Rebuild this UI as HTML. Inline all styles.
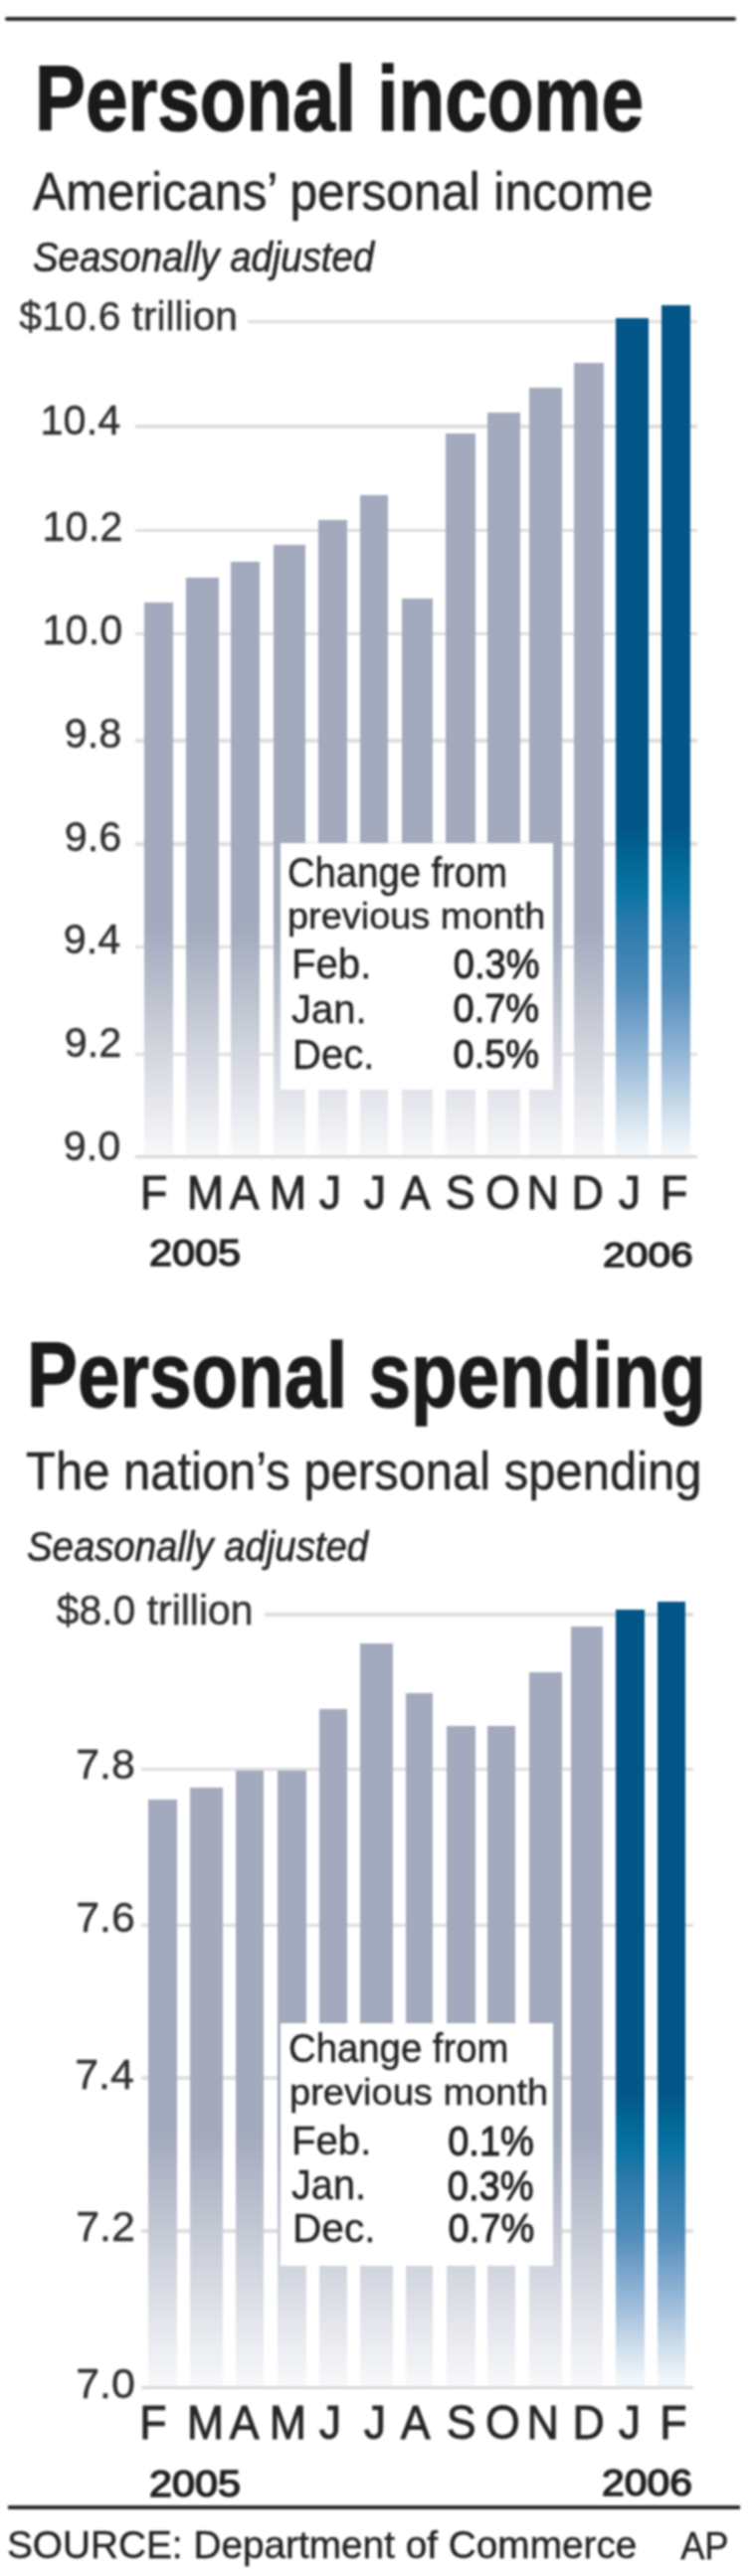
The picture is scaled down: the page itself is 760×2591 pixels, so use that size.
<!DOCTYPE html>
<html><head><meta charset="utf-8"><style>
html,body{margin:0;padding:0;background:#fff;}
body{width:760px;height:2591px;position:relative;overflow:hidden;font-family:"Liberation Sans",sans-serif;filter:blur(0.8px);}
div,span.t{position:absolute;}
span.t{white-space:nowrap;line-height:1;}
</style></head><body>
<div style="left:4.5px;top:16.5px;width:735.0px;height:4.0px;background:#2b2b2b;border-radius:2px;"></div>
<div style="left:249.2px;top:321.6px;width:451.8px;height:3.5px;background:#dedede;"></div>
<div style="left:136.0px;top:427.4px;width:565.0px;height:3.5px;background:#dedede;"></div>
<div style="left:136.0px;top:531.5px;width:565.0px;height:3.5px;background:#dedede;"></div>
<div style="left:136.0px;top:635.8px;width:565.0px;height:3.5px;background:#dedede;"></div>
<div style="left:136.0px;top:743.1px;width:565.0px;height:3.5px;background:#dedede;"></div>
<div style="left:136.0px;top:847.4px;width:565.0px;height:3.5px;background:#dedede;"></div>
<div style="left:136.0px;top:950.8px;width:565.0px;height:3.5px;background:#dedede;"></div>
<div style="left:136.0px;top:1058.5px;width:565.0px;height:3.5px;background:#dedede;"></div>
<div style="left:136.0px;top:1162.2px;width:565.0px;height:3.0px;background:#d8d8d8;"></div>
<div style="left:145.0px;top:605.7px;width:29.4px;height:556.5px;background:#a3aabd linear-gradient(to bottom, #a3aabd 0.0%, #a9b0c2 7.8%, #bcc1ce 30.0%, #d0d4dd 52.6%, #e4e6ec 75.2%, #f3f4f7 93.9%, #f9f9fa 100.0%) no-repeat left bottom / 100% 230px;"></div>
<div style="left:186.5px;top:580.7px;width:33.5px;height:581.5px;background:#a3aabd linear-gradient(to bottom, #a3aabd 0.0%, #a9b0c2 7.8%, #bcc1ce 30.0%, #d0d4dd 52.6%, #e4e6ec 75.2%, #f3f4f7 93.9%, #f9f9fa 100.0%) no-repeat left bottom / 100% 230px;"></div>
<div style="left:232.0px;top:564.7px;width:29.0px;height:597.5px;background:#a3aabd linear-gradient(to bottom, #a3aabd 0.0%, #a9b0c2 7.8%, #bcc1ce 30.0%, #d0d4dd 52.6%, #e4e6ec 75.2%, #f3f4f7 93.9%, #f9f9fa 100.0%) no-repeat left bottom / 100% 230px;"></div>
<div style="left:274.5px;top:547.7px;width:32.5px;height:614.5px;background:#a3aabd linear-gradient(to bottom, #a3aabd 0.0%, #a9b0c2 7.8%, #bcc1ce 30.0%, #d0d4dd 52.6%, #e4e6ec 75.2%, #f3f4f7 93.9%, #f9f9fa 100.0%) no-repeat left bottom / 100% 230px;"></div>
<div style="left:320.0px;top:523.2px;width:29.0px;height:639.0px;background:#a3aabd linear-gradient(to bottom, #a3aabd 0.0%, #a9b0c2 7.8%, #bcc1ce 30.0%, #d0d4dd 52.6%, #e4e6ec 75.2%, #f3f4f7 93.9%, #f9f9fa 100.0%) no-repeat left bottom / 100% 230px;"></div>
<div style="left:361.5px;top:498.2px;width:28.5px;height:664.0px;background:#a3aabd linear-gradient(to bottom, #a3aabd 0.0%, #a9b0c2 7.8%, #bcc1ce 30.0%, #d0d4dd 52.6%, #e4e6ec 75.2%, #f3f4f7 93.9%, #f9f9fa 100.0%) no-repeat left bottom / 100% 230px;"></div>
<div style="left:403.5px;top:601.9px;width:31.5px;height:560.3px;background:#a3aabd linear-gradient(to bottom, #a3aabd 0.0%, #a9b0c2 7.8%, #bcc1ce 30.0%, #d0d4dd 52.6%, #e4e6ec 75.2%, #f3f4f7 93.9%, #f9f9fa 100.0%) no-repeat left bottom / 100% 230px;"></div>
<div style="left:448.0px;top:436.0px;width:29.6px;height:726.2px;background:#a3aabd linear-gradient(to bottom, #a3aabd 0.0%, #a9b0c2 7.8%, #bcc1ce 30.0%, #d0d4dd 52.6%, #e4e6ec 75.2%, #f3f4f7 93.9%, #f9f9fa 100.0%) no-repeat left bottom / 100% 230px;"></div>
<div style="left:490.0px;top:414.9px;width:33.0px;height:747.3px;background:#a3aabd linear-gradient(to bottom, #a3aabd 0.0%, #a9b0c2 7.8%, #bcc1ce 30.0%, #d0d4dd 52.6%, #e4e6ec 75.2%, #f3f4f7 93.9%, #f9f9fa 100.0%) no-repeat left bottom / 100% 230px;"></div>
<div style="left:531.5px;top:390.3px;width:33.5px;height:771.9px;background:#a3aabd linear-gradient(to bottom, #a3aabd 0.0%, #a9b0c2 7.8%, #bcc1ce 30.0%, #d0d4dd 52.6%, #e4e6ec 75.2%, #f3f4f7 93.9%, #f9f9fa 100.0%) no-repeat left bottom / 100% 230px;"></div>
<div style="left:577.0px;top:365.3px;width:30.0px;height:796.9px;background:#a3aabd linear-gradient(to bottom, #a3aabd 0.0%, #a9b0c2 7.8%, #bcc1ce 30.0%, #d0d4dd 52.6%, #e4e6ec 75.2%, #f3f4f7 93.9%, #f9f9fa 100.0%) no-repeat left bottom / 100% 230px;"></div>
<div style="left:618.8px;top:319.6px;width:33.2px;height:842.6px;background:#025688 linear-gradient(to bottom, #025688 0.0%, #026796 9.7%, #0a73a3 19.5%, #2a7aab 28.9%, #4f8cbb 48.3%, #7aa5cc 61.1%, #a3c1dc 74.2%, #cfdfec 86.9%, #eef4f8 96.7%, #f5f9fb 100.0%) no-repeat left bottom / 100% 329px;"></div>
<div style="left:664.5px;top:306.9px;width:29.3px;height:855.3px;background:#025688 linear-gradient(to bottom, #025688 0.0%, #026796 9.7%, #0a73a3 19.5%, #2a7aab 28.9%, #4f8cbb 48.3%, #7aa5cc 61.1%, #a3c1dc 74.2%, #cfdfec 86.9%, #eef4f8 96.7%, #f5f9fb 100.0%) no-repeat left bottom / 100% 329px;"></div>
<div style="left:281.6px;top:848.0px;width:274.4px;height:247.5px;background:#fff;"></div>
<div style="left:265.6px;top:1622.3px;width:431.7px;height:3.5px;background:#dedede;"></div>
<div style="left:141.6px;top:1777.7px;width:555.7px;height:3.5px;background:#dedede;"></div>
<div style="left:141.6px;top:1934.8px;width:555.7px;height:3.5px;background:#dedede;"></div>
<div style="left:141.6px;top:2088.4px;width:555.7px;height:3.5px;background:#dedede;"></div>
<div style="left:141.6px;top:2242.3px;width:555.7px;height:3.5px;background:#dedede;"></div>
<div style="left:141.6px;top:2400.2px;width:555.7px;height:3.0px;background:#d8d8d8;"></div>
<div style="left:149.2px;top:1810.4px;width:29.1px;height:589.8px;background:#a3aabd linear-gradient(to bottom, #a3aabd 0.0%, #a9b0c2 7.8%, #bcc1ce 30.0%, #d0d4dd 52.6%, #e4e6ec 75.2%, #f3f4f7 93.9%, #f9f9fa 100.0%) no-repeat left bottom / 100% 255px;"></div>
<div style="left:190.5px;top:1797.7px;width:33.5px;height:602.5px;background:#a3aabd linear-gradient(to bottom, #a3aabd 0.0%, #a9b0c2 7.8%, #bcc1ce 30.0%, #d0d4dd 52.6%, #e4e6ec 75.2%, #f3f4f7 93.9%, #f9f9fa 100.0%) no-repeat left bottom / 100% 255px;"></div>
<div style="left:236.5px;top:1781.2px;width:28.5px;height:619.0px;background:#a3aabd linear-gradient(to bottom, #a3aabd 0.0%, #a9b0c2 7.8%, #bcc1ce 30.0%, #d0d4dd 52.6%, #e4e6ec 75.2%, #f3f4f7 93.9%, #f9f9fa 100.0%) no-repeat left bottom / 100% 255px;"></div>
<div style="left:278.5px;top:1781.2px;width:29.0px;height:619.0px;background:#a3aabd linear-gradient(to bottom, #a3aabd 0.0%, #a9b0c2 7.8%, #bcc1ce 30.0%, #d0d4dd 52.6%, #e4e6ec 75.2%, #f3f4f7 93.9%, #f9f9fa 100.0%) no-repeat left bottom / 100% 255px;"></div>
<div style="left:320.5px;top:1719.4px;width:28.5px;height:680.8px;background:#a3aabd linear-gradient(to bottom, #a3aabd 0.0%, #a9b0c2 7.8%, #bcc1ce 30.0%, #d0d4dd 52.6%, #e4e6ec 75.2%, #f3f4f7 93.9%, #f9f9fa 100.0%) no-repeat left bottom / 100% 255px;"></div>
<div style="left:362.0px;top:1652.9px;width:32.5px;height:747.3px;background:#a3aabd linear-gradient(to bottom, #a3aabd 0.0%, #a9b0c2 7.8%, #bcc1ce 30.0%, #d0d4dd 52.6%, #e4e6ec 75.2%, #f3f4f7 93.9%, #f9f9fa 100.0%) no-repeat left bottom / 100% 255px;"></div>
<div style="left:408.0px;top:1702.6px;width:27.0px;height:697.6px;background:#a3aabd linear-gradient(to bottom, #a3aabd 0.0%, #a9b0c2 7.8%, #bcc1ce 30.0%, #d0d4dd 52.6%, #e4e6ec 75.2%, #f3f4f7 93.9%, #f9f9fa 100.0%) no-repeat left bottom / 100% 255px;"></div>
<div style="left:448.5px;top:1735.6px;width:29.0px;height:664.6px;background:#a3aabd linear-gradient(to bottom, #a3aabd 0.0%, #a9b0c2 7.8%, #bcc1ce 30.0%, #d0d4dd 52.6%, #e4e6ec 75.2%, #f3f4f7 93.9%, #f9f9fa 100.0%) no-repeat left bottom / 100% 255px;"></div>
<div style="left:490.0px;top:1735.8px;width:28.0px;height:664.4px;background:#a3aabd linear-gradient(to bottom, #a3aabd 0.0%, #a9b0c2 7.8%, #bcc1ce 30.0%, #d0d4dd 52.6%, #e4e6ec 75.2%, #f3f4f7 93.9%, #f9f9fa 100.0%) no-repeat left bottom / 100% 255px;"></div>
<div style="left:532.3px;top:1681.6px;width:32.7px;height:718.6px;background:#a3aabd linear-gradient(to bottom, #a3aabd 0.0%, #a9b0c2 7.8%, #bcc1ce 30.0%, #d0d4dd 52.6%, #e4e6ec 75.2%, #f3f4f7 93.9%, #f9f9fa 100.0%) no-repeat left bottom / 100% 255px;"></div>
<div style="left:573.5px;top:1635.9px;width:32.8px;height:764.3px;background:#a3aabd linear-gradient(to bottom, #a3aabd 0.0%, #a9b0c2 7.8%, #bcc1ce 30.0%, #d0d4dd 52.6%, #e4e6ec 75.2%, #f3f4f7 93.9%, #f9f9fa 100.0%) no-repeat left bottom / 100% 255px;"></div>
<div style="left:619.0px;top:1619.4px;width:28.5px;height:780.8px;background:#025688 linear-gradient(to bottom, #025688 0.0%, #026796 9.7%, #0a73a3 19.5%, #2a7aab 28.9%, #4f8cbb 48.3%, #7aa5cc 61.1%, #a3c1dc 74.2%, #cfdfec 86.9%, #eef4f8 96.7%, #f5f9fb 100.0%) no-repeat left bottom / 100% 295px;"></div>
<div style="left:660.5px;top:1610.9px;width:28.5px;height:789.3px;background:#025688 linear-gradient(to bottom, #025688 0.0%, #026796 9.7%, #0a73a3 19.5%, #2a7aab 28.9%, #4f8cbb 48.3%, #7aa5cc 61.1%, #a3c1dc 74.2%, #cfdfec 86.9%, #eef4f8 96.7%, #f5f9fb 100.0%) no-repeat left bottom / 100% 295px;"></div>
<div style="left:281.7px;top:2034.6px;width:274.8px;height:244.6px;background:#fff;"></div>
<div style="left:8.0px;top:2520.0px;width:736.0px;height:4.0px;background:#2b2b2b;"></div>
<span class="t" style="top:53.21px;font-size:92.58px;color:#1a1a1a;font-weight:bold;-webkit-text-stroke:1.4px #1a1a1a;left:35.00px;transform-origin:0 0;transform:scaleX(0.8259);">Personal income</span>
<span class="t" style="top:166.85px;font-size:52.76px;color:#262626;-webkit-text-stroke:0.5px #262626;left:32.87px;transform-origin:0 0;transform:scaleX(0.9444);">Americans’ personal income</span>
<span class="t" style="top:238.07px;font-size:41.78px;color:#262626;font-style:italic;-webkit-text-stroke:0.6px #262626;left:33.01px;transform-origin:0 0;transform:scaleX(0.9178);">Seasonally adjusted</span>
<span class="t" style="top:297.56px;font-size:40.44px;color:#303030;-webkit-text-stroke:0.4px #303030;right:520.69px;transform-origin:100% 0;transform:scaleX(1.0075);">$10.6 trillion</span>
<span class="t" style="top:1336.80px;font-size:93.07px;color:#1a1a1a;font-weight:bold;-webkit-text-stroke:1.4px #1a1a1a;left:27.40px;transform-origin:0 0;transform:scaleX(0.8199);">Personal spending</span>
<span class="t" style="top:1452.88px;font-size:54.38px;color:#262626;-webkit-text-stroke:0.5px #262626;left:26.15px;transform-origin:0 0;transform:scaleX(0.9003);">The nation’s personal spending</span>
<span class="t" style="top:1534.51px;font-size:41.78px;color:#262626;font-style:italic;-webkit-text-stroke:0.6px #262626;left:26.53px;transform-origin:0 0;transform:scaleX(0.9178);">Seasonally adjusted</span>
<span class="t" style="top:1599.09px;font-size:42.08px;color:#303030;-webkit-text-stroke:0.4px #303030;right:505.30px;transform-origin:100% 0;transform:scaleX(0.9716);">$8.0 trillion</span>
<span class="t" style="top:2539.98px;font-size:39.00px;color:#222;-webkit-text-stroke:0.4px #222;left:7.15px;transform-origin:0 0;transform:scaleX(0.9940);">SOURCE: Department of Commerce</span>
<span class="t" style="top:2540.96px;font-size:39.45px;color:#222;-webkit-text-stroke:0.4px #222;right:27.43px;transform-origin:100% 0;transform:scaleX(0.9213);">AP</span>
<span class="t" style="top:1241.79px;font-size:37.78px;color:#222;-webkit-text-stroke:1.4px #222;left:149.96px;transform-origin:0 0;transform:scaleX(1.0952);">2005</span>
<span class="t" style="top:1244.57px;font-size:35.52px;color:#222;-webkit-text-stroke:1.4px #222;left:605.70px;transform-origin:0 0;transform:scaleX(1.1489);">2006</span>
<span class="t" style="top:2479.66px;font-size:37.34px;color:#222;-webkit-text-stroke:1.4px #222;left:149.96px;transform-origin:0 0;transform:scaleX(1.1081);">2005</span>
<span class="t" style="top:2480.28px;font-size:36.62px;color:#222;-webkit-text-stroke:1.4px #222;left:604.96px;transform-origin:0 0;transform:scaleX(1.1174);">2006</span>
<span class="t" style="top:857.24px;font-size:41.62px;color:#222;-webkit-text-stroke:0.4px #222;left:288.82px;transform-origin:0 0;transform:scaleX(0.9188);">Change from</span>
<span class="t" style="top:902.80px;font-size:37.54px;color:#222;-webkit-text-stroke:0.4px #222;left:289.46px;transform-origin:0 0;transform:scaleX(1.0102);">previous month</span>
<span class="t" style="top:948.97px;font-size:41.89px;color:#222;-webkit-text-stroke:0.4px #222;left:293.47px;transform-origin:0 0;transform:scaleX(0.9592);">Feb.</span>
<span class="t" style="top:994.65px;font-size:41.23px;color:#222;-webkit-text-stroke:0.4px #222;left:293.35px;transform-origin:0 0;transform:scaleX(0.9701);">Jan.</span>
<span class="t" style="top:1040.05px;font-size:41.89px;color:#222;-webkit-text-stroke:0.4px #222;left:293.53px;transform-origin:0 0;transform:scaleX(0.9578);">Dec.</span>
<span class="t" style="top:948.66px;font-size:41.90px;color:#222;-webkit-text-stroke:1.0px #222;right:217.58px;transform-origin:100% 0;transform:scaleX(0.9075);">0.3%</span>
<span class="t" style="top:994.41px;font-size:41.32px;color:#222;-webkit-text-stroke:1.0px #222;right:217.58px;transform-origin:100% 0;transform:scaleX(0.9204);">0.7%</span>
<span class="t" style="top:1039.65px;font-size:41.32px;color:#222;-webkit-text-stroke:1.0px #222;right:217.58px;transform-origin:100% 0;transform:scaleX(0.9204);">0.5%</span>
<span class="t" style="top:2040.95px;font-size:39.97px;color:#222;-webkit-text-stroke:0.4px #222;left:290.47px;transform-origin:0 0;transform:scaleX(0.9587);">Change from</span>
<span class="t" style="top:2085.84px;font-size:37.54px;color:#222;-webkit-text-stroke:0.4px #222;left:290.52px;transform-origin:0 0;transform:scaleX(1.0142);">previous month</span>
<span class="t" style="top:2132.89px;font-size:41.23px;color:#222;-webkit-text-stroke:0.4px #222;left:293.47px;transform-origin:0 0;transform:scaleX(0.9744);">Feb.</span>
<span class="t" style="top:2177.41px;font-size:41.89px;color:#222;-webkit-text-stroke:0.4px #222;left:293.36px;transform-origin:0 0;transform:scaleX(0.9482);">Jan.</span>
<span class="t" style="top:2220.57px;font-size:41.23px;color:#222;-webkit-text-stroke:0.4px #222;left:293.53px;transform-origin:0 0;transform:scaleX(0.9856);">Dec.</span>
<span class="t" style="top:2132.87px;font-size:41.61px;color:#222;-webkit-text-stroke:1.0px #222;right:223.00px;transform-origin:100% 0;transform:scaleX(0.9134);">0.1%</span>
<span class="t" style="top:2178.00px;font-size:41.90px;color:#222;-webkit-text-stroke:1.0px #222;right:223.70px;transform-origin:100% 0;transform:scaleX(0.9075);">0.3%</span>
<span class="t" style="top:2220.69px;font-size:40.05px;color:#222;-webkit-text-stroke:1.0px #222;right:223.00px;transform-origin:100% 0;transform:scaleX(0.9494);">0.7%</span>
<span class="t" style="top:401.19px;font-size:42.74px;color:#303030;-webkit-text-stroke:0.4px #303030;right:638.39px;transform-origin:100% 0;transform:scaleX(0.9691);">10.4</span>
<span class="t" style="top:508.23px;font-size:42.74px;color:#303030;-webkit-text-stroke:0.4px #303030;right:636.71px;transform-origin:100% 0;transform:scaleX(0.9691);">10.2</span>
<span class="t" style="top:612.35px;font-size:42.74px;color:#303030;-webkit-text-stroke:0.4px #303030;right:636.86px;transform-origin:100% 0;transform:scaleX(0.9691);">10.0</span>
<span class="t" style="top:716.27px;font-size:42.74px;color:#303030;-webkit-text-stroke:0.4px #303030;right:637.58px;transform-origin:100% 0;transform:scaleX(0.9691);">9.8</span>
<span class="t" style="top:820.11px;font-size:42.74px;color:#303030;-webkit-text-stroke:0.4px #303030;right:637.58px;transform-origin:100% 0;transform:scaleX(0.9691);">9.6</span>
<span class="t" style="top:923.35px;font-size:42.74px;color:#303030;-webkit-text-stroke:0.4px #303030;right:638.28px;transform-origin:100% 0;transform:scaleX(0.9691);">9.4</span>
<span class="t" style="top:1027.47px;font-size:42.74px;color:#303030;-webkit-text-stroke:0.4px #303030;right:637.58px;transform-origin:100% 0;transform:scaleX(0.9691);">9.2</span>
<span class="t" style="top:1131.39px;font-size:42.74px;color:#303030;-webkit-text-stroke:0.4px #303030;right:638.28px;transform-origin:100% 0;transform:scaleX(0.9691);">9.0</span>
<span class="t" style="top:1753.23px;font-size:43.12px;color:#303030;-webkit-text-stroke:0.4px #303030;right:623.58px;transform-origin:100% 0;transform:scaleX(0.9970);">7.8</span>
<span class="t" style="top:1907.11px;font-size:43.12px;color:#303030;-webkit-text-stroke:0.4px #303030;right:623.58px;transform-origin:100% 0;transform:scaleX(0.9970);">7.6</span>
<span class="t" style="top:2064.99px;font-size:43.12px;color:#303030;-webkit-text-stroke:0.4px #303030;right:624.58px;transform-origin:100% 0;transform:scaleX(0.9970);">7.4</span>
<span class="t" style="top:2218.23px;font-size:43.12px;color:#303030;-webkit-text-stroke:0.4px #303030;right:623.58px;transform-origin:100% 0;transform:scaleX(0.9970);">7.2</span>
<span class="t" style="top:2376.19px;font-size:43.12px;color:#303030;-webkit-text-stroke:0.4px #303030;right:623.58px;transform-origin:100% 0;transform:scaleX(0.9970);">7.0</span>
<span class="t" style="top:1175.16px;font-size:48.80px;color:#262626;-webkit-text-stroke:0.9px #262626;left:155.77px;transform-origin:0 0;transform:translateX(-50%) scaleX(0.9188);">F</span>
<span class="t" style="top:1175.16px;font-size:48.80px;color:#262626;-webkit-text-stroke:0.9px #262626;left:207.86px;transform-origin:0 0;transform:translateX(-50%) scaleX(0.9188);">M</span>
<span class="t" style="top:1175.16px;font-size:48.80px;color:#262626;-webkit-text-stroke:0.9px #262626;left:247.36px;transform-origin:0 0;transform:translateX(-50%) scaleX(0.9188);">A</span>
<span class="t" style="top:1175.16px;font-size:48.80px;color:#262626;-webkit-text-stroke:0.9px #262626;left:290.72px;transform-origin:0 0;transform:translateX(-50%) scaleX(0.9188);">M</span>
<span class="t" style="top:1175.16px;font-size:48.80px;color:#262626;-webkit-text-stroke:0.9px #262626;left:332.57px;transform-origin:0 0;transform:translateX(-50%) scaleX(0.9188);">J</span>
<span class="t" style="top:1175.16px;font-size:48.80px;color:#262626;-webkit-text-stroke:0.9px #262626;left:377.57px;transform-origin:0 0;transform:translateX(-50%) scaleX(0.9188);">J</span>
<span class="t" style="top:1175.16px;font-size:48.80px;color:#262626;-webkit-text-stroke:0.9px #262626;left:419.42px;transform-origin:0 0;transform:translateX(-50%) scaleX(0.9188);">A</span>
<span class="t" style="top:1175.16px;font-size:48.80px;color:#262626;-webkit-text-stroke:0.9px #262626;left:464.33px;transform-origin:0 0;transform:translateX(-50%) scaleX(0.9188);">S</span>
<span class="t" style="top:1175.16px;font-size:48.80px;color:#262626;-webkit-text-stroke:0.9px #262626;left:507.36px;transform-origin:0 0;transform:translateX(-50%) scaleX(0.9188);">O</span>
<span class="t" style="top:1175.16px;font-size:48.80px;color:#262626;-webkit-text-stroke:0.9px #262626;left:546.92px;transform-origin:0 0;transform:translateX(-50%) scaleX(0.9188);">N</span>
<span class="t" style="top:1175.16px;font-size:48.80px;color:#262626;-webkit-text-stroke:0.9px #262626;left:592.42px;transform-origin:0 0;transform:translateX(-50%) scaleX(0.9188);">D</span>
<span class="t" style="top:1175.16px;font-size:48.80px;color:#262626;-webkit-text-stroke:0.9px #262626;left:634.13px;transform-origin:0 0;transform:translateX(-50%) scaleX(0.9188);">J</span>
<span class="t" style="top:1175.16px;font-size:48.80px;color:#262626;-webkit-text-stroke:0.9px #262626;left:678.77px;transform-origin:0 0;transform:translateX(-50%) scaleX(0.9188);">F</span>
<span class="t" style="top:2412.34px;font-size:48.63px;color:#262626;-webkit-text-stroke:0.9px #262626;left:155.42px;transform-origin:0 0;transform:translateX(-50%) scaleX(0.9197);">F</span>
<span class="t" style="top:2412.34px;font-size:48.63px;color:#262626;-webkit-text-stroke:0.9px #262626;left:208.06px;transform-origin:0 0;transform:translateX(-50%) scaleX(0.9197);">M</span>
<span class="t" style="top:2412.34px;font-size:48.63px;color:#262626;-webkit-text-stroke:0.9px #262626;left:247.36px;transform-origin:0 0;transform:translateX(-50%) scaleX(0.9197);">A</span>
<span class="t" style="top:2412.34px;font-size:48.63px;color:#262626;-webkit-text-stroke:0.9px #262626;left:290.92px;transform-origin:0 0;transform:translateX(-50%) scaleX(0.9197);">M</span>
<span class="t" style="top:2412.34px;font-size:48.63px;color:#262626;-webkit-text-stroke:0.9px #262626;left:332.57px;transform-origin:0 0;transform:translateX(-50%) scaleX(0.9197);">J</span>
<span class="t" style="top:2412.34px;font-size:48.63px;color:#262626;-webkit-text-stroke:0.9px #262626;left:377.57px;transform-origin:0 0;transform:translateX(-50%) scaleX(0.9197);">J</span>
<span class="t" style="top:2412.34px;font-size:48.63px;color:#262626;-webkit-text-stroke:0.9px #262626;left:419.42px;transform-origin:0 0;transform:translateX(-50%) scaleX(0.9197);">A</span>
<span class="t" style="top:2412.34px;font-size:48.63px;color:#262626;-webkit-text-stroke:0.9px #262626;left:464.53px;transform-origin:0 0;transform:translateX(-50%) scaleX(0.9197);">S</span>
<span class="t" style="top:2412.34px;font-size:48.63px;color:#262626;-webkit-text-stroke:0.9px #262626;left:507.36px;transform-origin:0 0;transform:translateX(-50%) scaleX(0.9197);">O</span>
<span class="t" style="top:2412.34px;font-size:48.63px;color:#262626;-webkit-text-stroke:0.9px #262626;left:547.07px;transform-origin:0 0;transform:translateX(-50%) scaleX(0.9197);">N</span>
<span class="t" style="top:2412.34px;font-size:48.63px;color:#262626;-webkit-text-stroke:0.9px #262626;left:592.77px;transform-origin:0 0;transform:translateX(-50%) scaleX(0.9197);">D</span>
<span class="t" style="top:2412.34px;font-size:48.63px;color:#262626;-webkit-text-stroke:0.9px #262626;left:634.13px;transform-origin:0 0;transform:translateX(-50%) scaleX(0.9197);">J</span>
<span class="t" style="top:2412.34px;font-size:48.63px;color:#262626;-webkit-text-stroke:0.9px #262626;left:678.42px;transform-origin:0 0;transform:translateX(-50%) scaleX(0.9197);">F</span>
</body></html>
